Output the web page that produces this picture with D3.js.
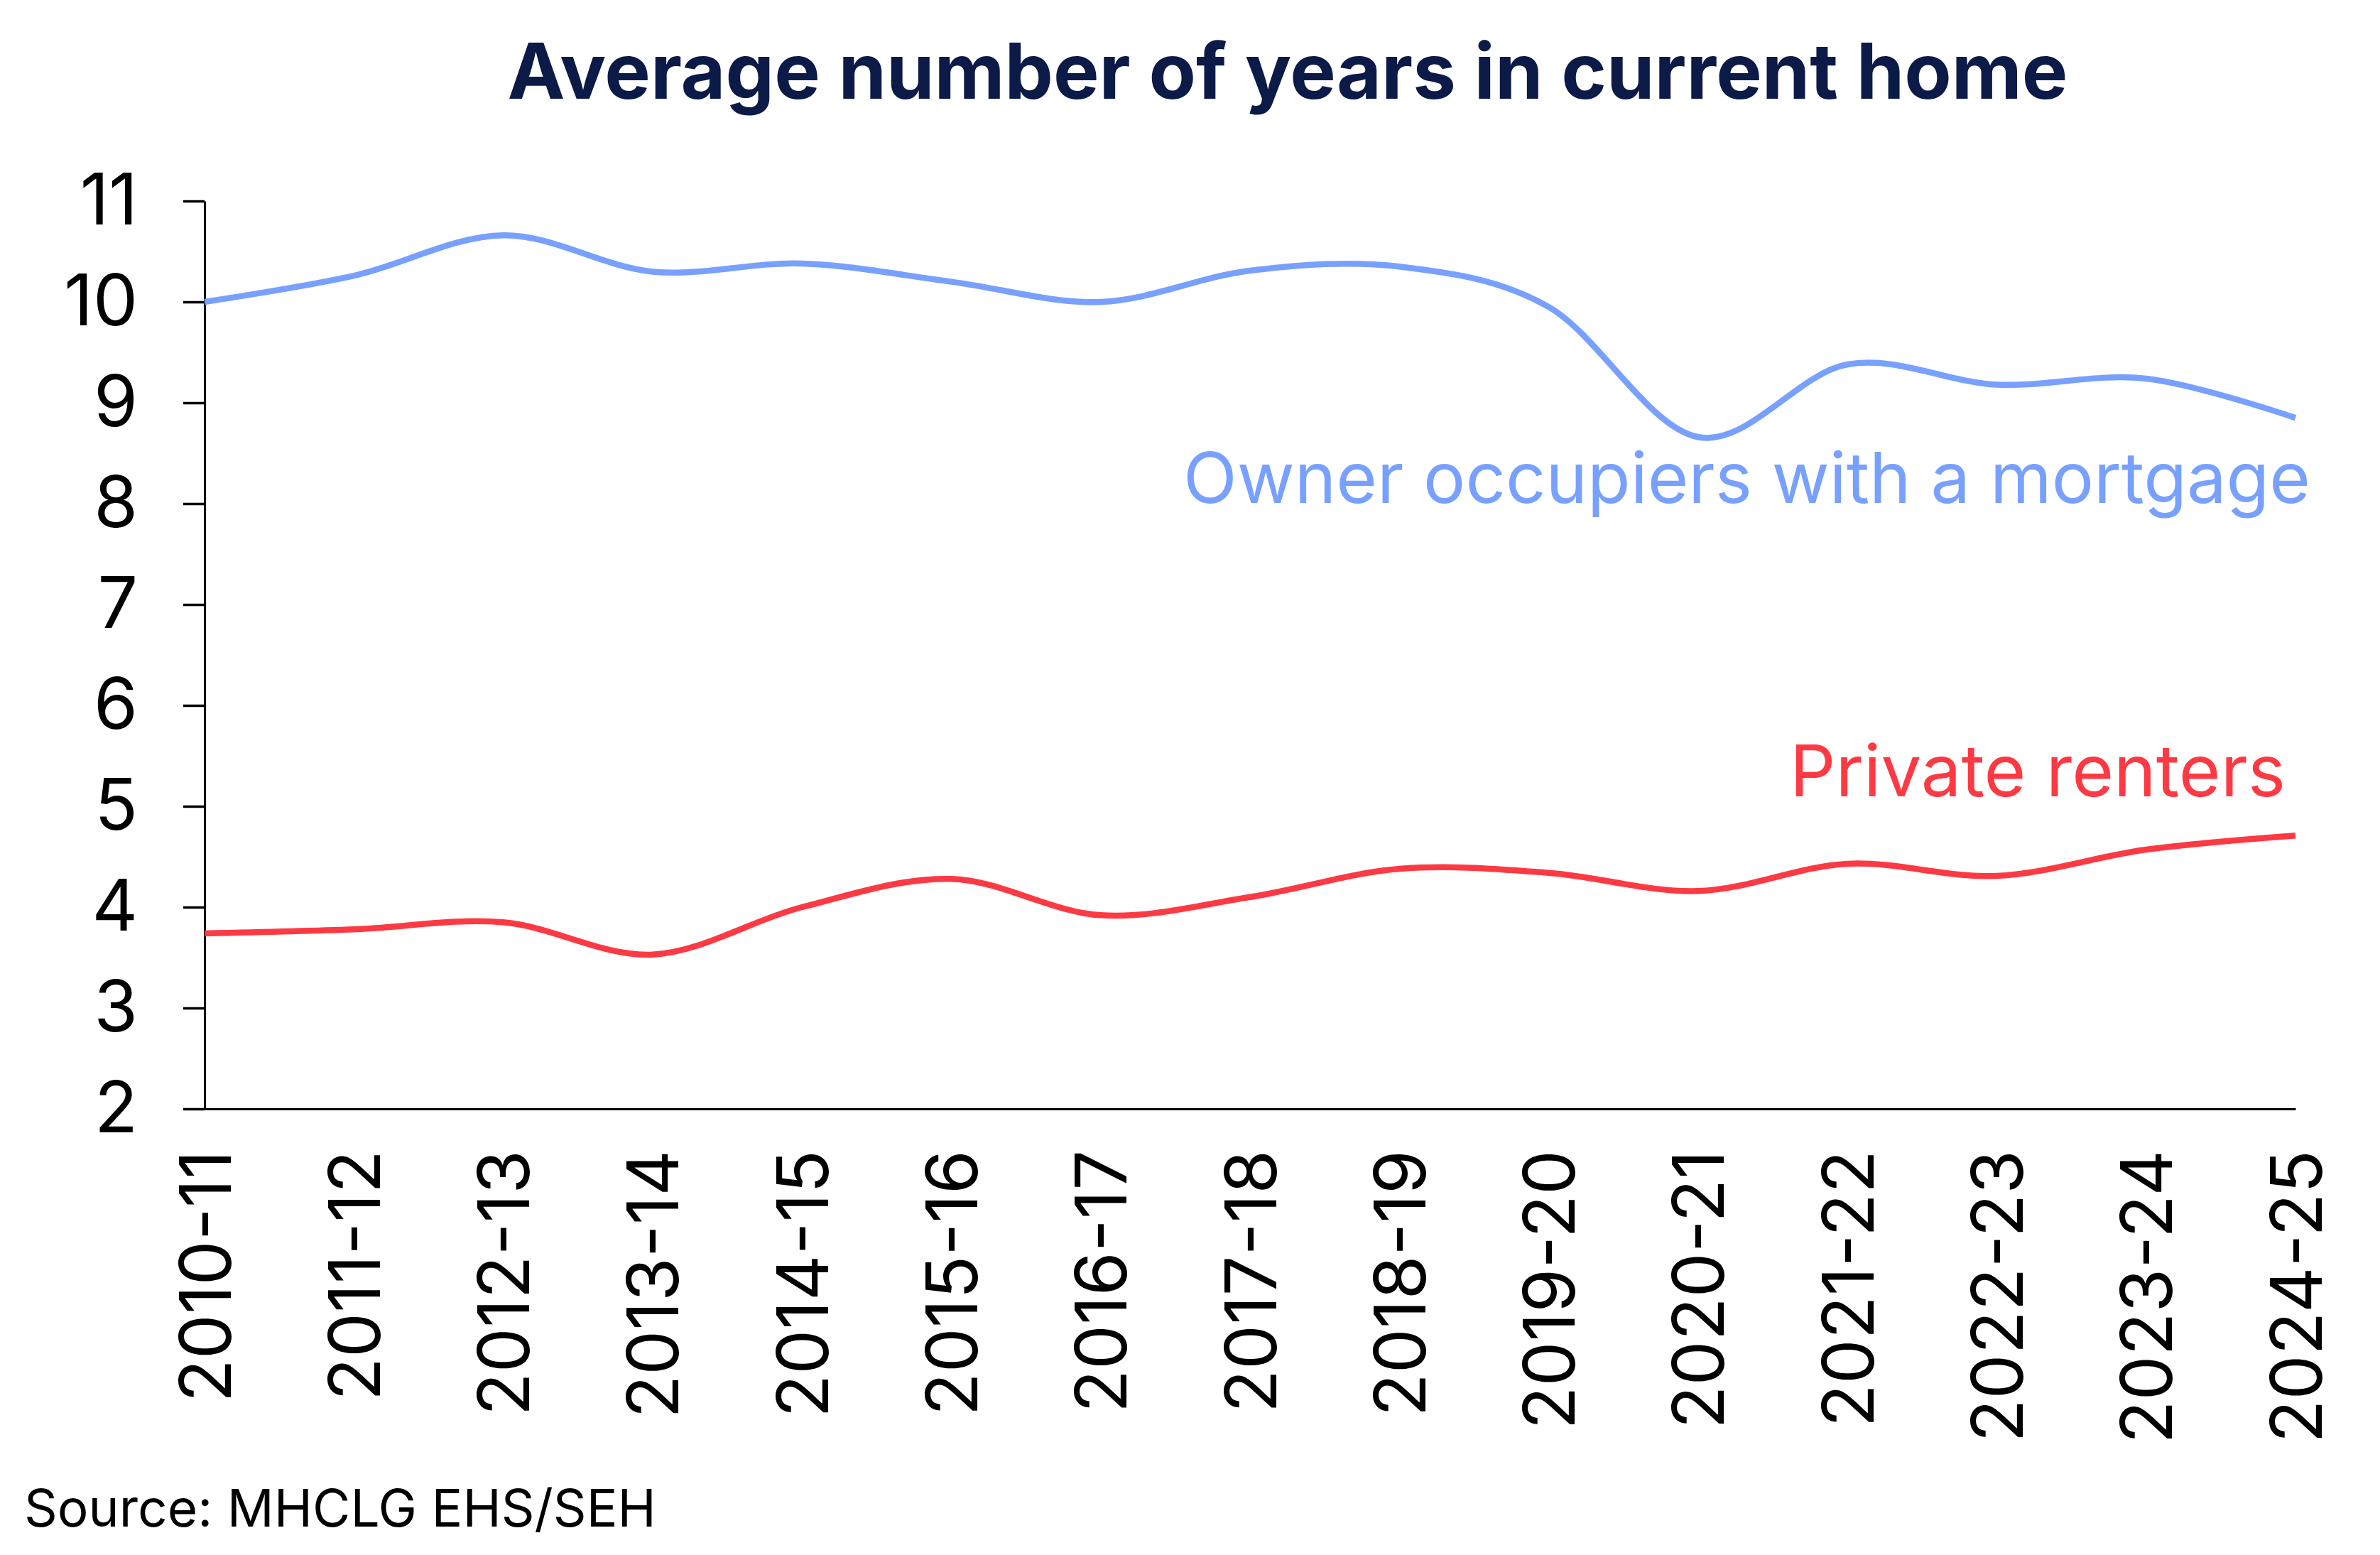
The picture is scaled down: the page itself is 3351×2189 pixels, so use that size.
<!DOCTYPE html>
<html>
<head>
<meta charset="utf-8">
<script src="https://cdn.jsdelivr.net/npm/d3@7"></script>
<style>
  html, body { margin: 0; padding: 0; background: #fff; }
  svg { display: block; font-family: Inter, Lato, sans-serif; font-variant-numeric: proportional-nums; }
</style>
</head>
<body>
<svg id="chart" width="3351" height="2189"></svg>
<script>
// values
const years = ['2010-11', '2011-12', '2012-13', '2013-14', '2014-15', '2015-16', '2016-17',
    '2017-18', '2018-19', '2019-20', '2020-21', '2021-22', '2022-23', '2023-24', '2024-25'];
const ownerMortgage = [10.0, 10.26, 10.66, 10.3, 10.38, 10.2, 10.0, 10.31, 10.35, 9.95, 8.66, 9.38, 9.18, 9.24, 8.85];
const privateRenters = [3.74, 3.78, 3.85, 3.53, 4.0, 4.28, 3.92, 4.1, 4.38, 4.34, 4.16, 4.43, 4.31, 4.57, 4.71];
const yTicks = [2, 3, 4, 5, 6, 7, 8, 9, 10, 11];

const svg = d3.select('#chart');

const margin = {top: 283, right: 119, bottom: 628, left: 288};
const W = 3351, H = 2189;

const x = d3.scalePoint().domain(years).range([margin.left, W - margin.right]);
const y = d3.scaleLinear().domain([2, 11]).range([H - margin.bottom, margin.top]);

// title
svg.append('text')
    .attr('x', 1813)
    .attr('y', 139)
    .attr('text-anchor', 'middle')
    .attr('font-size', '108.5px')
    .attr('font-weight', 'bold')
    .attr('fill', '#0b1a47')
    .text('Average number of years in current home');

// y axis
const yAxis = svg.append('g')
    .attr('transform', `translate(${margin.left},0)`)
    .call(d3.axisLeft(y).tickValues(yTicks).tickFormat(d3.format('d')).tickSize(30).tickSizeOuter(0).tickPadding(64));
yAxis.select('.domain').attr('stroke', '#000').attr('stroke-width', 3);
yAxis.selectAll('.tick line').attr('stroke', '#000').attr('stroke-width', 3.5);
yAxis.selectAll('.tick text')
    .attr('font-family', 'Inter, sans-serif')
    .attr('font-size', '100px')
    .attr('fill', '#000');

// x axis
const xAxis = svg.append('g')
    .attr('transform', `translate(0,${H - margin.bottom})`)
    .call(d3.axisBottom(x).tickSize(0).tickSizeOuter(0));
xAxis.select('.domain').attr('stroke', '#000').attr('stroke-width', 3);
xAxis.selectAll('.tick text')
    .attr('font-family', 'Inter, sans-serif')
    .attr('font-size', '100px')
    .attr('fill', '#000')
    .attr('text-anchor', 'end')
    .attr('transform', 'rotate(-90)')
    .attr('x', -58)
    .attr('y', 0)
    .attr('dy', '0.36em');

const line = d3.line()
    .x((d, i) => x(years[i]))
    .y(d => y(d))
    .curve(d3.curveCatmullRom.alpha(0));

svg.append('path')
    .datum(ownerMortgage)
    .attr('fill', 'none')
    .attr('stroke', '#78a0ff')
    .attr('stroke-width', 8.5)
    .attr('stroke-linejoin', 'round')
    .attr('d', line);

svg.append('path')
    .datum(privateRenters)
    .attr('fill', 'none')
    .attr('stroke', '#fd3a43')
    .attr('stroke-width', 8.5)
    .attr('stroke-linejoin', 'round')
    .attr('d', line);

// series labels
svg.append('text')
    .attr('x', 3253)
    .attr('y', 708)
    .attr('text-anchor', 'end')
    .attr('font-size', '99px')
    .attr('fill', '#78a0ff')
    .text('Owner occupiers with a mortgage');

svg.append('text')
    .attr('x', 3218)
    .attr('y', 1121)
    .attr('text-anchor', 'end')
    .attr('font-size', '101px')
    .attr('fill', '#fd3a43')
    .text('Private renters');

// source note
svg.append('text')
    .attr('x', 34)
    .attr('y', 2149)
    .attr('font-size', '73px')
    .attr('fill', '#000')
    .text('Source: MHCLG EHS/SEH');
</script>
</body>
</html>
